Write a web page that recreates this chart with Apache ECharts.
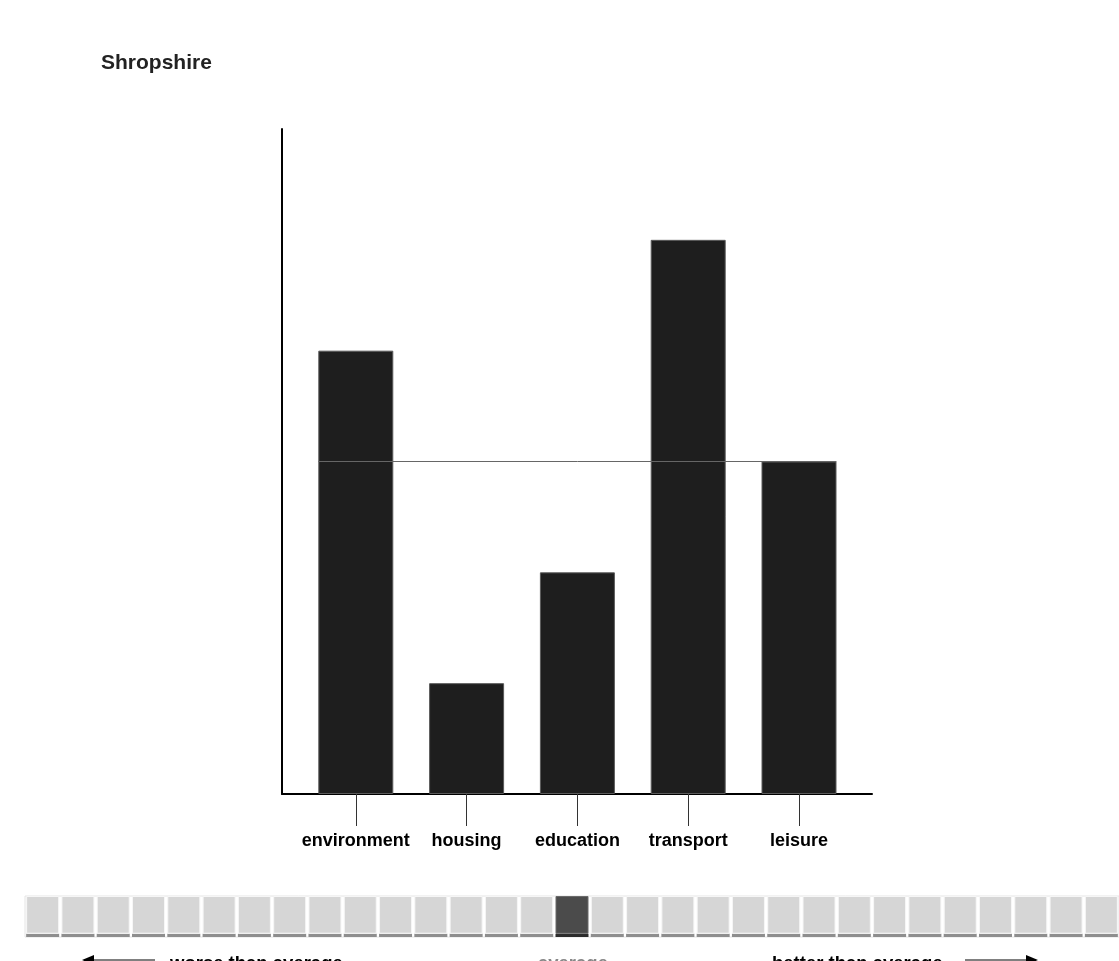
<!DOCTYPE html>
<html>
<head>
<meta charset="utf-8">
<script src="https://cdn.jsdelivr.net/npm/echarts@6/dist/echarts.min.js"></script>
<style>
html,body{margin:0;padding:0;background:#fff;}
#chart{width:1119px;height:961px;}
</style>
</head>
<body>
<div id="chart"></div>
<script>
const titleText = 'Shropshire';
const categories = ['environment', 'housing', 'education', 'transport', 'leisure'];
const values = [4, 1, 2, 5, 3];
const averageValue = 3;
const yMax = 6;
const buttonCount = 31;
const selectedButton = 15;
const scaleLabels = ['worse than average', 'average', 'better than average'];

const barPx = 75;
const bandPx = 110.8;
const half = barPx / bandPx / 2;

const btnIdx = Array.from({length: buttonCount}, (_, i) => i);
const btnShadow = btnIdx.map(i => ({value: 0.08, itemStyle: {color: i === selectedButton ? '#2c2c2c' : '#8e8e8e'}}));
const btnFace = btnIdx.map(i => ({value: 0.92, itemStyle: {color: i === selectedButton ? '#4b4b4b' : '#d6d6d6', borderColor: i === selectedButton ? '#6a6a6a' : '#f6f6f6'}}));

const chart = echarts.init(document.getElementById('chart'));
const font = '"Liberation Sans", Arial, sans-serif';

chart.setOption({
  animation: false,
  backgroundColor: '#ffffff',
  title: {
    text: titleText, left: 96, top: 48,
    textStyle: {fontFamily: font, fontWeight: 'bold', fontSize: 21, color: '#222'}
  },
  grid: [
    {left: 282, top: 129, width: 590, height: 665},
    {left: 300.4, top: 129, width: 554, height: 665},
    {left: 25, top: 896, width: 1101, height: 41, show: true, borderColor: '#e4e4e4', borderWidth: 1, backgroundColor: '#ffffff'}
  ],
  xAxis: [
    {gridIndex: 0, type: 'value', min: 0, max: 1, axisLine: {show: true, onZero: false, lineStyle: {color: '#000', width: 2}}, axisTick: {show: false}, axisLabel: {show: false}, splitLine: {show: false}},
    {gridIndex: 1, type: 'category', data: categories, boundaryGap: true,
      axisLine: {show: false}, axisTick: {show: true, interval: 0, alignWithLabel: true, length: 32, lineStyle: {color: '#333', width: 1}},
      axisLabel: {interval: 0, margin: 38, fontFamily: font, fontWeight: 'bold', fontSize: 18, color: '#000'}},
    {gridIndex: 1, type: 'value', min: -0.5, max: 4.5, show: false},
    {gridIndex: 2, type: 'category', data: btnIdx, show: false}
  ],
  yAxis: [
    {gridIndex: 0, type: 'value', min: 0, max: yMax, axisLine: {show: true, lineStyle: {color: '#000', width: 2}}, axisTick: {show: false}, axisLabel: {show: false}, splitLine: {show: false}},
    {gridIndex: 1, type: 'value', min: 0, max: yMax, show: false},
    {gridIndex: 2, type: 'value', min: 0, max: 1, show: false}
  ],
  series: [
    {type: 'bar', xAxisIndex: 1, yAxisIndex: 1, data: values, barWidth: barPx,
      itemStyle: {color: '#1e1e1e', borderColor: '#5a5a5a', borderWidth: 1}, z: 2},
    {type: 'line', xAxisIndex: 2, yAxisIndex: 1, data: [[-half, averageValue], [categories.length - 1 + half, averageValue]],
      symbol: 'none', lineStyle: {color: '#666', width: 1}, z: 5},
    {type: 'bar', xAxisIndex: 3, yAxisIndex: 2, stack: 'btn', data: btnShadow, barWidth: 33},
    {type: 'bar', xAxisIndex: 3, yAxisIndex: 2, stack: 'btn', data: btnFace, barWidth: 33, itemStyle: {borderWidth: 1}}
  ],
  graphic: [
    {type: 'text', left: 170, top: 954, style: {text: scaleLabels[0], font: 'bold 18.5px ' + font, fill: '#000'}},
    {type: 'text', left: 538, top: 954, style: {text: scaleLabels[1], font: 'bold 18.5px ' + font, fill: '#888'}},
    {type: 'text', left: 772, top: 954, style: {text: scaleLabels[2], font: 'bold 18.5px ' + font, fill: '#000'}},
    {type: 'line', shape: {x1: 84, y1: 960, x2: 155, y2: 960}, style: {stroke: '#000', lineWidth: 1}},
    {type: 'polygon', shape: {points: [[82, 960], [94, 955], [94, 965]]}, style: {fill: '#000'}},
    {type: 'line', shape: {x1: 965, y1: 960, x2: 1036, y2: 960}, style: {stroke: '#000', lineWidth: 1}},
    {type: 'polygon', shape: {points: [[1038, 960], [1026, 955], [1026, 965]]}, style: {fill: '#000'}}
  ]
});
</script>
</body>
</html>
